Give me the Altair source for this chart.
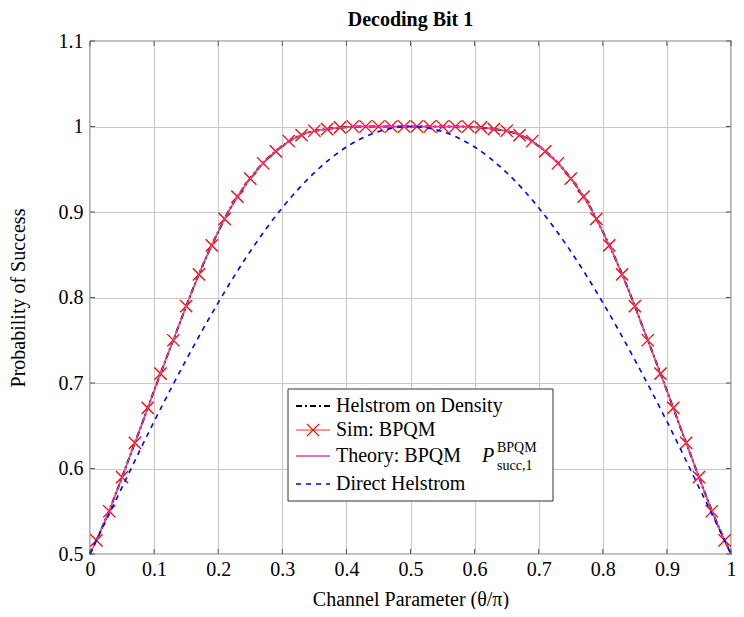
import altair as alt
import pandas as pd

# ---------------- data ----------------
sim_x = [0.01, 0.03, 0.05, 0.07, 0.09, 0.11, 0.13, 0.15, 0.17, 0.19,
         0.21, 0.23, 0.25, 0.27, 0.29, 0.31, 0.33, 0.35, 0.37, 0.39,
         0.41, 0.43, 0.45, 0.47, 0.49, 0.51, 0.53, 0.55, 0.57, 0.59,
         0.61, 0.63, 0.65, 0.67, 0.69, 0.71, 0.73, 0.75, 0.77, 0.79,
         0.81, 0.83, 0.85, 0.87, 0.89, 0.91, 0.93, 0.95, 0.97, 0.99]
sim_y = [0.516, 0.550, 0.590, 0.630, 0.671, 0.711, 0.750, 0.790, 0.827, 0.861,
         0.892, 0.918, 0.939, 0.957, 0.971, 0.983, 0.990, 0.995, 0.997, 0.999,
         1.000, 1.000, 1.000, 1.000, 1.000, 1.000, 1.000, 1.000, 1.000, 1.000,
         0.999, 0.997, 0.995, 0.990, 0.983, 0.971, 0.957, 0.939, 0.918, 0.892,
         0.861, 0.827, 0.790, 0.750, 0.711, 0.671, 0.630, 0.590, 0.550, 0.516]

curve_x = [0.00, 0.02, 0.04, 0.06, 0.08, 0.10, 0.12, 0.14, 0.16, 0.18,
           0.20, 0.22, 0.24, 0.26, 0.28, 0.30, 0.32, 0.34, 0.36, 0.38,
           0.40, 0.42, 0.44, 0.46, 0.48, 0.50, 0.52, 0.54, 0.56, 0.58,
           0.60, 0.62, 0.64, 0.66, 0.68, 0.70, 0.72, 0.74, 0.76, 0.78,
           0.80, 0.82, 0.84, 0.86, 0.88, 0.90, 0.92, 0.94, 0.96, 0.98, 1.00]
density_y = [0.500, 0.533, 0.570, 0.610, 0.650, 0.691, 0.731, 0.770, 0.809, 0.845,
             0.877, 0.906, 0.929, 0.949, 0.965, 0.977, 0.987, 0.993, 0.996, 0.998,
             0.999, 1.000, 1.000, 1.000, 1.000, 1.000, 1.000, 1.000, 1.000, 1.000,
             0.999, 0.998, 0.996, 0.993, 0.987, 0.977, 0.965, 0.949, 0.929, 0.906,
             0.877, 0.845, 0.809, 0.770, 0.731, 0.691, 0.650, 0.610, 0.570, 0.533, 0.500]
theory_y = [0.500, 0.533, 0.570, 0.610, 0.650, 0.691, 0.731, 0.770, 0.809, 0.845,
            0.877, 0.906, 0.929, 0.949, 0.965, 0.977, 0.987, 0.993, 0.996, 0.998,
            0.999, 1.000, 1.000, 1.000, 1.000, 1.000, 1.000, 1.000, 1.000, 1.000,
            0.999, 0.998, 0.996, 0.993, 0.987, 0.977, 0.965, 0.949, 0.929, 0.906,
            0.877, 0.845, 0.809, 0.770, 0.731, 0.691, 0.650, 0.610, 0.570, 0.533, 0.500]

helstrom_x = [0.00, 0.05, 0.10, 0.15, 0.20, 0.25, 0.30, 0.35, 0.40, 0.45, 0.50,
              0.55, 0.60, 0.65, 0.70, 0.75, 0.80, 0.85, 0.90, 0.95, 1.00]
helstrom_y = [0.500, 0.578, 0.655, 0.727, 0.794, 0.854, 0.905, 0.946, 0.976, 0.994, 1.000,
              0.994, 0.976, 0.946, 0.905, 0.854, 0.794, 0.727, 0.655, 0.578, 0.500]

x_ticks = [0.0, 0.1, 0.2, 0.3, 0.4, 0.5, 0.6, 0.7, 0.8, 0.9, 1.0]
y_ticks = [0.5, 0.6, 0.7, 0.8, 0.9, 1.0, 1.1]

title_text = "Decoding Bit 1"
x_title = "Channel Parameter (θ/π)"
y_title = "Probability of Success"
legend_labels = ["Helstrom on Density", "Sim: BPQM", "Theory: BPQM", "Direct Helstrom"]

# ---------------- styling ----------------
FONT = "Liberation Serif"
FS = 20
W, H = 641, 513
XPATH = "M-1,-1L1,1M1,-1L-1,1"

sim_df = pd.DataFrame({"x": sim_x, "y": sim_y})
dens_df = pd.DataFrame({"x": curve_x, "y": density_y})
theo_df = pd.DataFrame({"x": curve_x, "y": theory_y})
hel_df = pd.DataFrame({"x": helstrom_x, "y": helstrom_y})
xt_df = pd.DataFrame({"x": x_ticks})
yt_df = pd.DataFrame({"y": y_ticks})
one = pd.DataFrame({"a": [0]})

xscale = alt.Scale(domain=[0, 1], nice=False, zero=False)
yscale = alt.Scale(domain=[0.5, 1.1], nice=False, zero=False)
xaxis = alt.Axis(values=x_ticks, format=".1~f", grid=True, gridColor="#c8c8c8",
                 gridWidth=1, ticks=False, domain=False, labelFont=FONT,
                 labelFontSize=FS, labelColor="black", labelPadding=5,
                 titleFont=FONT, titleFontSize=FS, titleFontWeight="normal",
                 titleColor="black", titlePadding=10, labelFlush=False)
yaxis = alt.Axis(values=y_ticks, format=".1~f", grid=True, gridColor="#c8c8c8",
                 gridWidth=1, ticks=False, domain=False, labelFont=FONT,
                 labelFontSize=FS, labelColor="black", labelPadding=7,
                 titleFont=FONT, titleFontSize=FS, titleFontWeight="normal",
                 titleColor="black", titlePadding=30, labelFlush=False)


def X():
    return alt.X("x:Q", scale=xscale, axis=xaxis, title=x_title)


def Y():
    return alt.Y("y:Q", scale=yscale, axis=yaxis, title=y_title)


sim_line = alt.Chart(sim_df).mark_line(color="#ff5050", strokeWidth=1.6, opacity=0.8).encode(x=X(), y=Y())
sim_pts = alt.Chart(sim_df).mark_point(shape=XPATH, size=150, filled=False, color="#ff0000",
                                       strokeWidth=1.3, opacity=1).encode(x=X(), y=Y())
dens_line = alt.Chart(dens_df).mark_line(color="black", strokeWidth=2, strokeDash=[6, 3, 2, 3],
                                         interpolate="monotone").encode(x=X(), y=Y())
theo_line = alt.Chart(theo_df).mark_line(color="#f03ca0", strokeWidth=1.3,
                                         interpolate="monotone").encode(x=X(), y=Y())
hel_line = alt.Chart(hel_df).mark_line(color="#0000ff", strokeWidth=1.6, strokeDash=[5, 5],
                                       interpolate="monotone").encode(x=X(), y=Y())

# inward ticks
tick_col = "#555555"
yt_left = alt.Chart(yt_df).mark_rule(color=tick_col, strokeWidth=1).encode(
    y=Y(), x=alt.value(0), x2=alt.value(5))
yt_right = alt.Chart(yt_df).mark_rule(color=tick_col, strokeWidth=1).encode(
    y=Y(), x=alt.value(W - 5), x2=alt.value(W))
xt_bot = alt.Chart(xt_df).mark_rule(color=tick_col, strokeWidth=1).encode(
    x=X(), y=alt.value(H - 5), y2=alt.value(H))
xt_top = alt.Chart(xt_df).mark_rule(color=tick_col, strokeWidth=1).encode(
    x=X(), y=alt.value(0), y2=alt.value(5))

# custom legend
LX0, LX1, LY0, LY1 = 198, 463, 348, 460
rows = [365, 389, 415, 443]
sx0, sx1, tx = 206, 240, 246
legend_box = alt.Chart(one).mark_rect(fill="white", stroke="#333333", strokeWidth=1).encode(
    x=alt.value(LX0), x2=alt.value(LX1), y=alt.value(LY0), y2=alt.value(LY1))
lg = [legend_box]
lg.append(alt.Chart(one).mark_rule(color="black", strokeWidth=2, strokeDash=[6, 3, 2, 3]).encode(
    x=alt.value(sx0), x2=alt.value(sx1), y=alt.value(rows[0])))
lg.append(alt.Chart(one).mark_rule(color="#ff5050", strokeWidth=1.6, opacity=0.8).encode(
    x=alt.value(sx0), x2=alt.value(sx1), y=alt.value(rows[1])))
lg.append(alt.Chart(one).mark_point(shape=XPATH, size=150, filled=False, color="#ff0000",
                                    strokeWidth=1.3, opacity=1).encode(
    x=alt.value((sx0 + sx1) / 2), y=alt.value(rows[1])))
lg.append(alt.Chart(one).mark_rule(color="#f03ca0", strokeWidth=1.3).encode(
    x=alt.value(sx0), x2=alt.value(sx1), y=alt.value(rows[2])))
lg.append(alt.Chart(one).mark_rule(color="#0000ff", strokeWidth=1.6, strokeDash=[5, 5]).encode(
    x=alt.value(sx0), x2=alt.value(sx1), y=alt.value(rows[3])))
for lab, ry in zip(legend_labels, rows):
    lg.append(alt.Chart(one).mark_text(align="left", baseline="middle", font=FONT,
                                       fontSize=FS, color="black").encode(
        x=alt.value(tx), y=alt.value(ry), text=alt.value(lab)))
# P^{BPQM}_{succ,1}
lg.append(alt.Chart(one).mark_text(align="left", baseline="middle", font=FONT, fontSize=FS,
                                   fontStyle="italic", color="black").encode(
    x=alt.value(392), y=alt.value(rows[2]), text=alt.value("P")))
lg.append(alt.Chart(one).mark_text(align="left", baseline="middle", font=FONT, fontSize=14,
                                   color="black").encode(
    x=alt.value(407), y=alt.value(rows[2] - 8), text=alt.value("BPQM")))
lg.append(alt.Chart(one).mark_text(align="left", baseline="middle", font=FONT, fontSize=14,
                                   color="black").encode(
    x=alt.value(407), y=alt.value(rows[2] + 10), text=alt.value("succ,1")))

chart = alt.layer(
    sim_line, dens_line, sim_pts, theo_line, hel_line,
    yt_left, yt_right, xt_bot, xt_top, *lg
).properties(
    width=W, height=H,
    title=alt.TitleParams(title_text, font=FONT, fontSize=20, fontWeight="bold",
                          color="black", anchor="middle", offset=1),
    autosize=alt.AutoSizeParams(type="none"),
    padding={"left": 82, "top": 33, "right": 5, "bottom": 55},
).configure_view(stroke="black", strokeWidth=1.2)

chart.save("out.html", embed_options={"renderer": "svg", "actions": False})
